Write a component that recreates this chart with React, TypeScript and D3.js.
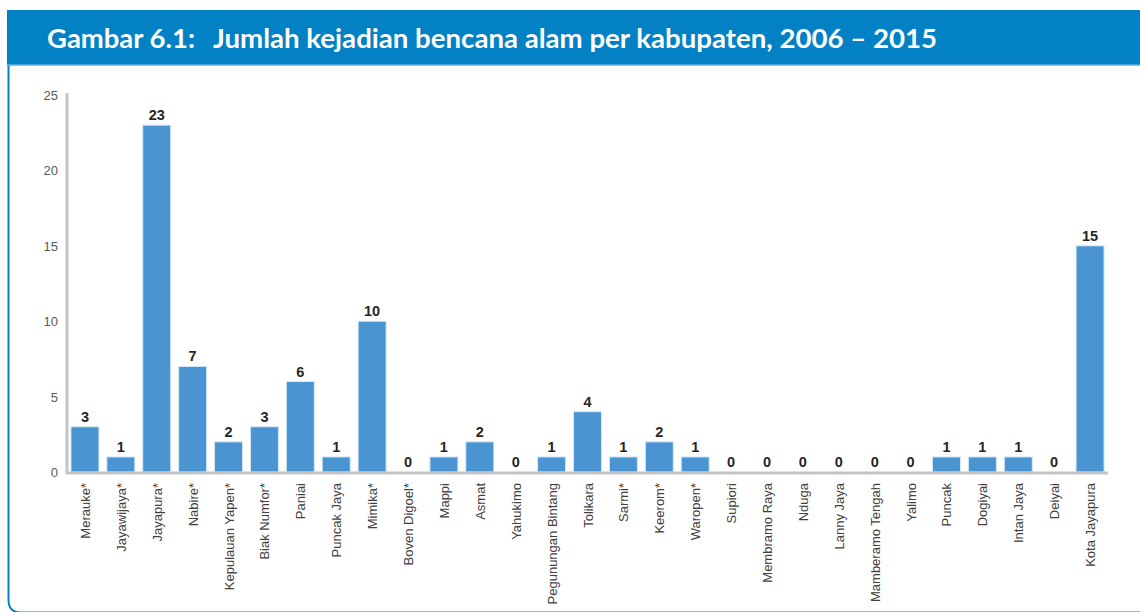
import React from "react";
import * as d3 from "d3";

const categories = [
  "Merauke*", "Jayawijaya*", "Jayapura*", "Nabire*", "Kepulauan Yapen*", "Biak Numfor*",
  "Paniai", "Puncak Jaya", "Mimika*", "Boven Digoel*", "Mappi", "Asmat", "Yahukimo",
  "Pegunungan Bintang", "Tolikara", "Sarmi*", "Keerom*", "Waropen*", "Supiori",
  "Membramo Raya", "Nduga", "Lanny Jaya", "Mamberamo Tengah", "Yalimo", "Puncak",
  "Dogiyai", "Intan Jaya", "Deiyai", "Kota Jayapura",
];
const values = [3, 1, 23, 7, 2, 3, 6, 1, 10, 0, 1, 2, 0, 1, 4, 1, 2, 1, 0, 0, 0, 0, 0, 0, 1, 1, 1, 0, 15];
const yTicks = [0, 5, 10, 15, 20, 25];
const titleLeft = "Gambar 6.1:";
const titleRight = "Jumlah kejadian bencana alam per kabupaten, 2006 – 2015";

export default function App() {
  const W = 1140, H = 612;
  const x = d3.scaleBand<string>().domain(categories).range([67, 1108]).paddingInner(0.22).paddingOuter(0.11);
  const y = d3.scaleLinear().domain([0, 25]).range([472, 95]);
  const blue = "#0281c4";
  const font = "'Liberation Sans', Arial, sans-serif";
  return (
    <div style={{ position: "absolute", left: 0, top: 0 }}>
      <svg width={W} height={H} style={{ display: "block", background: "#fff" }}>
        {/* frame */}
        <path d={`M8.5,60 L8.5,600 Q8.5,612 20,612.5 L1140,612.5`} fill="none" stroke={blue} strokeWidth={2} />
        <rect x={7} y={10} width={1140} height={55} fill={blue} />
        <line x1={7} x2={1140} y1={65} y2={65} stroke="#5fb0e0" strokeWidth={1.5} />
        <text x={47} y={48} fill="#fff" fontFamily="Lato, 'Open Sans', sans-serif" fontWeight={700} fontSize={27}
          textLength={148} lengthAdjust="spacingAndGlyphs">{titleLeft}</text>
        <text x={213} y={48} fill="#fff" fontFamily="Lato, 'Open Sans', sans-serif" fontWeight={700} fontSize={27}
          textLength={724} lengthAdjust="spacingAndGlyphs">{titleRight}</text>

        {/* y ticks */}
        {yTicks.map((t) => (
          <text key={t} x={58} y={y(t) + 5} textAnchor="end" fontFamily={font} fontSize={13} fill="#595959">{t}</text>
        ))}

        {/* bars */}
        {categories.map((c, i) => {
          const v = values[i];
          const bx = x(c)!;
          const bw = x.bandwidth();
          return (
            <g key={c}>
              {v > 0 && (
                <rect x={bx} y={y(v)} width={bw} height={y(0) - y(v)} fill="#4a94d2" stroke="#d6e8f7" strokeWidth={1} />
              )}
              <text x={bx + bw / 2} y={y(v) - 5} textAnchor="middle" fontFamily={font}
                fontWeight={700} fontSize={14.5} fill="#262626">{v}</text>
              <text transform={`translate(${bx + bw / 2 + 5},483) rotate(-90)`} textAnchor="end"
                fontFamily={font} fontSize={13} fill="#404040">{c}</text>
            </g>
          );
        })}

        {/* axes */}
        <line x1={67} x2={67} y1={93} y2={474} stroke="#c4c4c4" strokeWidth={3} />
        <line x1={66} x2={1108} y1={473} y2={473} stroke="#c4c4c4" strokeWidth={3} />
      </svg>
    </div>
  );
}
